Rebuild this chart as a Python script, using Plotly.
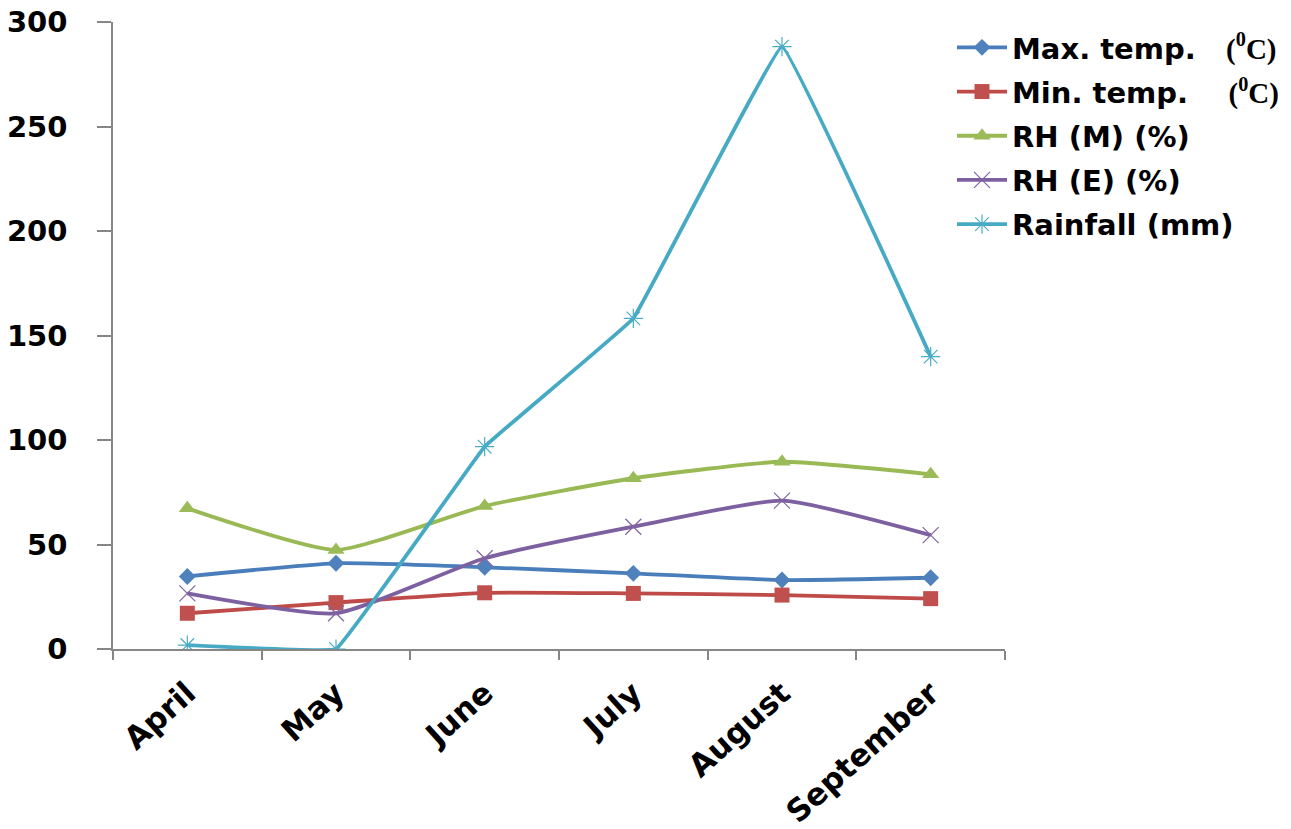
import plotly.graph_objects as go

months = ["April", "May", "June", "July", "August", "September"]
max_temp = [34.7, 41.0, 39.1, 36.2, 33.0, 34.1]
min_temp = [17.1, 22.2, 26.9, 26.6, 25.8, 24.1]
rh_m = [67.3, 47.4, 68.4, 81.7, 89.6, 83.6]
rh_e = [26.6, 17.1, 43.4, 58.5, 71.0, 54.5]
rainfall = [1.9, 0.0, 96.8, 158.2, 288.2, 139.9]

y_ticks = [0, 50, 100, 150, 200, 250, 300]

serif = "<span style='font-family:Liberation Serif'>(<sup>0</sup>C)</span>"
names = [
    "Max. temp.\u00a0\u00a0\u00a0" + serif,
    "Min. temp.\u00a0\u00a0\u00a0\u00a0" + serif,
    "RH (M) (%)",
    "RH (E) (%)",
    "Rainfall (mm)",
]

series = [max_temp, min_temp, rh_m, rh_e, rainfall]
line_colors = ["#4A7EBB", "#BE4B48", "#98B954", "#7D60A0", "#46AAC5"]
smooth = [0.5, 0.5, 0.5, 0.5, 0.15]
marker_specs = [
    dict(symbol="diamond", size=13, color="#4F81BD"),
    dict(symbol="square", size=15, color="#C0504D"),
    dict(symbol="triangle-up", size=15, color="#9BBB59"),
    dict(symbol="x-thin-open", size=16, color="#8064A2", line=dict(width=1.2, color="#9A86BC")),
    dict(symbol="asterisk-open", size=16, color="#4BACC6", line=dict(width=1.2, color="#7CC6DA")),
]

fig = go.Figure()
for i, (name, vals, lc, mk, sm) in enumerate(zip(names, series, line_colors, marker_specs, smooth)):
    fig.add_trace(go.Scatter(
        x=months, y=vals, name=name, mode="lines+markers",
        legendgroup=f"g{i}",
        line=dict(color=lc, width=3.8, shape="spline", smoothing=sm),
        marker=mk,
    ))

L, R, T, B = 113, 286, 22, 180
pw = 1291 - L - R
ph = 829 - T - B

fig.update_layout(
    width=1291, height=829,
    margin=dict(l=L, r=R, t=T, b=B, autoexpand=False),
    paper_bgcolor="white", plot_bgcolor="white",
    font=dict(family="DejaVu Sans", color="black"),
    showlegend=True,
    legend=dict(
        x=(952 - L) / pw, y=1, xanchor="left", yanchor="top",
        font=dict(size=29, family="DejaVu Sans", weight="bold", color="black"),
        itemwidth=50, tracegroupgap=3.5, bgcolor="rgba(0,0,0,0)",
    ),
    xaxis=dict(
        type="category", range=[-0.5, 5.5], tickson="boundaries",
        showline=True, linecolor="#868686", linewidth=1.5,
        ticks="outside", ticklen=9, tickcolor="#868686", tickwidth=1.5,
        tickangle=-42, showgrid=False, zeroline=False, ticklabelstandoff=12,
        tickfont=dict(size=31, family="DejaVu Sans", weight="bold", color="black"),
    ),
    yaxis=dict(
        range=[0, 300], tickvals=y_ticks, ticktext=[str(v) for v in y_ticks],
        showline=True, linecolor="#868686", linewidth=1.5,
        ticks="outside", ticklen=14, tickcolor="#868686", tickwidth=1.5,
        showgrid=False, zeroline=False, ticklabelstandoff=24,
        tickfont=dict(size=29, family="DejaVu Sans", weight="bold", color="black"),
    ),
)

fig.write_html("out.html")
